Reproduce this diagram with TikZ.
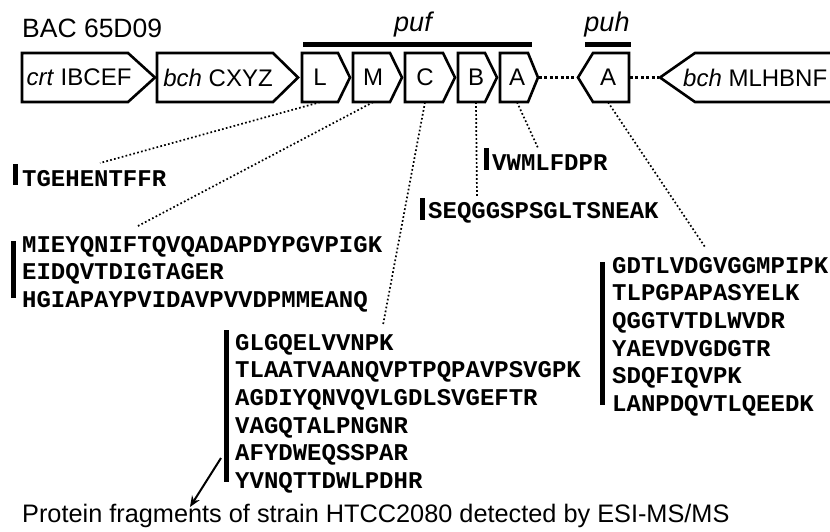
\documentclass[tikz,border=0pt]{standalone}
\usepackage{fontspec}
\setmainfont{Liberation Sans}
\newfontfamily\pepfont{Liberation Mono}
\usetikzlibrary{positioning,arrows.meta}

% gene drawn as a box pointing right: left x, corner x, tip x
\newcommand{\rgene}[3]{\draw[genebox] (#1,53) -- (#2,53) -- (#3,77.5) -- (#2,102) -- (#1,102) -- cycle;}

\tikzset{
  genebox/.style={draw, line width=2.6pt, line join=miter},
  genelabel/.style={inner sep=0pt, minimum height=49pt, font=\fontsize{24}{28}\selectfont},
  toplabel/.style={inner sep=0pt, anchor=base, font=\fontsize{27}{30}\selectfont\itshape},
  peplist/.style={anchor=north west, inner sep=0pt, align=left,
    font=\pepfont\bfseries\fontsize{24}{27.6}\selectfont},
  pepbar/.style={line width=5pt},
  opbar/.style={line width=5pt},
  linkdots/.style={line width=1.7pt, dash pattern=on 1.7pt off 2.3pt},
  gapdots/.style={line width=3pt, dash pattern=on 3pt off 2.4pt},
}

\begin{document}
\begin{tikzpicture}[x=1pt, y=-1pt]
    \useasboundingbox (0,0) rectangle (830,531);

    \node[anchor=base west, inner sep=0pt, font=\fontsize{26.5}{30}\selectfont] (bac) at (22,37) {BAC 65D09};

    % Gene boxes
    \rgene{22}{128}{155}
    \rgene{157}{273}{298}
    \rgene{302}{338}{350}
    \rgene{353}{390}{402}
    \rgene{405}{443}{455}
    \rgene{458}{485}{497}
    \rgene{500}{528}{538}
    \draw[genebox] (629,53) -- (593,53) -- (578,77.5) -- (593,102) -- (629,102) -- cycle;
    \draw[genebox] (845,53) -- (695,53) -- (660,77.5) -- (695,102) -- (845,102);

    \coordinate (pufAtip) at (539,77.5);
    \coordinate (puhAtip) at (577,77.5);
    \coordinate (puhAend) at (630,77.5);
    \coordinate (bchMtip) at (659,77.5);
    \draw[gapdots] (pufAtip) -- (puhAtip);
    \draw[gapdots] (puhAend) -- (bchMtip);

    % Gene labels
    \node[genelabel] (crt) at (79,77.5) {\textit{crt} IBCEF};
    \node[genelabel] (bchC) at (218,77.5) {\textit{bch} CXYZ};
    \node[genelabel] (pufL) at (320,77.5) {L};
    \node[genelabel] (pufM) at (373,77.5) {M};
    \node[genelabel] (pufC) at (425,77.5) {C};
    \node[genelabel] (pufB) at (476,77.5) {B};
    \node[genelabel] (pufA) at (517,77.5) {A};
    \node[genelabel] (puhA) at (608,77.5) {A};
    \node[genelabel, anchor=west] (bchM) at (683,77.5) {\textit{bch} MLHBNF};

    % Operons
    \draw[opbar] (303,44.5) -- (532,44.5);
    \draw[opbar] (585,44.5) -- (631,44.5);
    \node[toplabel] (puf) at (413,31) {puf};
    \node[toplabel] (puh) at (607,31) {puh};

    % Peptide lists
    \node[peplist] (tgeh) at (22,170) {TGEHENTFFR};
    \node[peplist] (mlist) at (22,236) {MIEYQNIFTQVQADAPDYPGVPIGK\\EIDQVTDIGTAGER\\HGIAPAYPVIDAVPVVDPMMEANQ};
    \node[peplist] (vwml) at (492,154) {VWMLFDPR};
    \node[peplist] (seq) at (428,202) {SEQGGSPSGLTSNEAK};
    \node[peplist] (clist) at (235,334) {GLGQELVVNPK\\TLAATVAANQVPTPQPAVPSVGPK\\AGDIYQNVQVLGDLSVGEFTR\\VAGQTALPNGNR\\AFYDWEQSSPAR\\YVNQTTDWLPDHR};
    \node[peplist] (hlist) at (612,257) {GDTLVDGVGGMPIPK\\TLPGPAPASYELK\\QGGTVTDLWVDR\\YAEVDVGDGTR\\SDQFIQVPK\\LANPDQVTLQEEDK};

    \draw[pepbar] (15,164) -- (15,185);
    \draw[pepbar] (13,241) -- (13,298);
    \draw[pepbar] (486,148) -- (486,170);
    \draw[pepbar] (422,198) -- (422,220);
    \draw[pepbar] (226,330) -- (226,482);
    \draw[pepbar] (602,262) -- (602,405);

    % Links from genes to peptides
    \coordinate (toL) at (100,163);
    \coordinate (toM) at (136,227);
    \coordinate (toC) at (383,325);
    \coordinate (toB) at (477,198);
    \coordinate (toA) at (538,148);
    \coordinate (toH) at (705,247);
    \draw[linkdots] (pufL.south) -- (toL);
    \draw[linkdots] (pufM.south) -- (toM);
    \draw[linkdots] (pufC.south) -- (toC);
    \draw[linkdots] (pufB.south) -- (toB);
    \draw[linkdots] (pufA.south) -- (toA);
    \draw[linkdots] (puhA.south) -- (toH);

    % Caption
    \node[anchor=base west, inner sep=0pt, font=\fontsize{25.3}{30}\selectfont] (caption) at (22,522) {Protein fragments of strain HTCC2080 detected by ESI-MS/MS};
    \coordinate (arrowstart) at (221,458);
    \coordinate (arrowend) at (190,507);
    \draw[line width=2pt, -{Stealth[length=11pt, width=9pt]}] (arrowstart) -- (arrowend);
\end{tikzpicture}
\end{document}
